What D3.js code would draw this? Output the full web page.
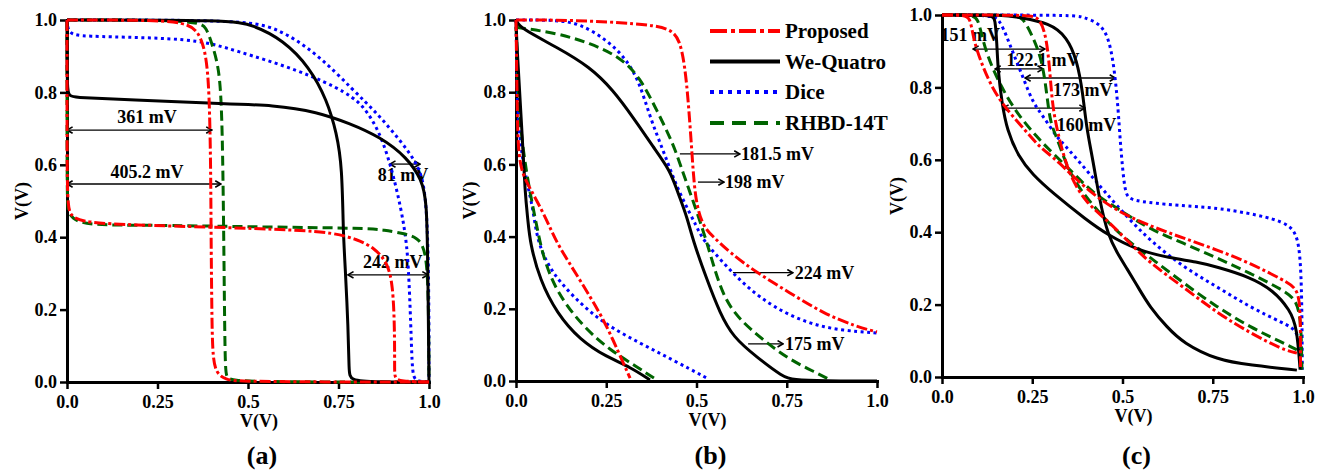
<!DOCTYPE html>
<html>
<head>
<meta charset="utf-8">
<script src="https://cdn.jsdelivr.net/npm/d3@7"></script>
<style>
body { margin: 0; background: #fff; }
text { font-family: "Liberation Serif", "Times New Roman", serif; font-weight: bold; fill: #000; }
</style>
</head>
<body>
<svg id="chart" width="1327" height="470"></svg>
<script>
// series
const seriesNames = ['Proposed', 'We-Quatro', 'Dice', 'RHBD-14T']
const seriesColors = ['#ff0000', '#000000', '#0000ff', '#006400']
const seriesDash = ['11,3,3,3', null, '3,3.5', '10,5']
const legendDash = ['17,4,4,4', null, '4,5', '14,8']

const xTicks = [0, 0.25, 0.5, 0.75, 1.0]
const xTickLabels = ['0.0', '0.25', '0.5', '0.75', '1.0']
const yTicks = [0, 0.2, 0.4, 0.6, 0.8, 1.0]
const yTickLabels = ['0.0', '0.2', '0.4', '0.6', '0.8', '1.0']

// panel (a): two branches per cell, [V1, V2]
const aProposed = [
  [[0,1],[0.2,1],[0.33,0.995],[0.367,0.964],[0.385,0.9],[0.393,0.8],[0.397,0.6],[0.398,0.4],[0.4,0.2],[0.402,0.08],[0.41,0.025],[0.44,0.006],[0.47,0.002],[0.7,0],[1,0]],
  [[0,1],[0,0.6],[0.002,0.48],[0.013,0.455],[0.055,0.44],[0.18,0.434],[0.395,0.428],[0.64,0.42],[0.735,0.412],[0.8,0.395],[0.85,0.37],[0.885,0.33],[0.9,0.27],[0.905,0.15],[0.905,0.04],[0.905,0.01],[0.92,0.002],[1,0]]
]
const aQuatro = [
  [[0,1],[0.45,1],[0.515,0.986],[0.597,0.945],[0.67,0.87],[0.718,0.779],[0.745,0.688],[0.76,0.594],[0.763,0.41],[0.768,0.33],[0.777,0.144],[0.779,0.03],[0.782,0.003],[0.85,0],[1,0]],
  [[0,1],[0,0.79],[0.008,0.787],[0.183,0.779],[0.395,0.77],[0.58,0.765],[0.69,0.746],[0.78,0.715],[0.865,0.677],[0.94,0.62],[0.98,0.558],[0.994,0.503],[0.997,0.3],[1,0]]
]
const aDice = [
  [[0,1],[0.48,1],[0.58,0.98],[0.69,0.908],[0.79,0.807],[0.856,0.743],[0.92,0.668],[0.975,0.594],[0.99,0.52],[0.997,0.4],[1,0.2],[1,0]],
  [[0,1],[0.003,0.96],[0.05,0.955],[0.2,0.952],[0.367,0.945],[0.46,0.917],[0.64,0.862],[0.78,0.798],[0.83,0.75],[0.874,0.668],[0.91,0.54],[0.934,0.42],[0.943,0.33],[0.95,0.15],[0.953,0.053],[0.957,0.01],[0.97,0.002],[1,0]]
]
const aRhbd = [
  [[0,1],[0.36,1],[0.385,0.98],[0.4,0.935],[0.42,0.87],[0.428,0.75],[0.432,0.5],[0.435,0.2],[0.437,0.05],[0.44,0.014],[0.45,0.003],[0.6,0],[1,0]],
  [[0,1],[0,0.5],[0.003,0.466],[0.027,0.44],[0.1,0.433],[0.276,0.433],[0.55,0.428],[0.83,0.425],[0.875,0.42],[0.93,0.41],[0.967,0.4],[0.994,0.365],[0.999,0.2],[1,0]]
]

// panel (b)
const bProposed = [
  [[0,1],[0.158,1],[0.343,0.99],[0.427,0.978],[0.454,0.945],[0.468,0.87],[0.477,0.778],[0.487,0.64],[0.496,0.5],[0.518,0.427],[0.546,0.4],[0.593,0.355],[0.667,0.3],[0.759,0.244],[0.85,0.188],[0.944,0.15],[1,0.136]],
  [[0,1],[0.003,0.778],[0.006,0.612],[0.025,0.557],[0.058,0.5],[0.094,0.427],[0.113,0.382],[0.177,0.28],[0.233,0.188],[0.269,0.114],[0.297,0.05],[0.316,0.008]]
]
const bQuatro = [
  [[0,1],[0.011,0.978],[0.113,0.925],[0.205,0.87],[0.269,0.806],[0.324,0.731],[0.38,0.648],[0.427,0.584],[0.449,0.52],[0.474,0.454],[0.49,0.39],[0.529,0.28],[0.565,0.188],[0.601,0.122],[0.667,0.066],[0.74,0.011],[0.767,0.003],[0.85,0],[1,0]],
  [[0,1],[0.003,0.917],[0.017,0.687],[0.025,0.52],[0.033,0.446],[0.039,0.382],[0.066,0.28],[0.113,0.188],[0.177,0.114],[0.252,0.066],[0.316,0.039],[0.371,0.003]]
]
const bDice = [
  [[0,1],[0.113,1],[0.177,0.99],[0.252,0.945],[0.307,0.89],[0.343,0.825],[0.371,0.731],[0.407,0.64],[0.435,0.565],[0.463,0.5],[0.501,0.427],[0.518,0.39],[0.584,0.316],[0.64,0.26],[0.712,0.205],[0.806,0.16],[0.898,0.14],[1,0.133]],
  [[0,1],[0.003,0.85],[0.006,0.687],[0.03,0.548],[0.047,0.48],[0.058,0.39],[0.094,0.307],[0.158,0.233],[0.241,0.16],[0.343,0.105],[0.435,0.058],[0.529,0.008]]
]
const bRhbd = [
  [[0,0.98],[0.113,0.964],[0.205,0.936],[0.288,0.898],[0.343,0.842],[0.39,0.75],[0.435,0.659],[0.463,0.576],[0.49,0.5],[0.518,0.418],[0.537,0.355],[0.573,0.233],[0.62,0.169],[0.684,0.114],[0.759,0.058],[0.834,0.022],[0.87,0.003]],
  [[0,0.98],[0.003,0.917],[0.006,0.778],[0.019,0.64],[0.039,0.52],[0.058,0.427],[0.075,0.343],[0.113,0.244],[0.186,0.15],[0.26,0.086],[0.335,0.039],[0.39,0.003]]
]

// panel (c)
const cProposed = [
  [[0,1],[0.24,1],[0.27,0.994],[0.29,0.939],[0.3,0.829],[0.307,0.738],[0.327,0.646],[0.355,0.552],[0.4,0.48],[0.457,0.434],[0.52,0.37],[0.576,0.315],[0.668,0.249],[0.762,0.177],[0.853,0.122],[0.945,0.075],[0.983,0.066]],
  [[0,1],[0.06,1],[0.078,0.994],[0.086,0.939],[0.105,0.876],[0.141,0.793],[0.18,0.738],[0.23,0.682],[0.27,0.635],[0.318,0.6],[0.4,0.517],[0.493,0.453],[0.585,0.414],[0.668,0.384],[0.762,0.351],[0.853,0.315],[0.945,0.268],[0.983,0.246],[0.992,0.2],[0.993,0.1],[0.993,0.02]]
]
const cQuatro = [
  [[0,1],[0.14,1],[0.147,0.99],[0.152,0.923],[0.155,0.848],[0.166,0.757],[0.18,0.682],[0.212,0.608],[0.25,0.56],[0.307,0.508],[0.4,0.434],[0.46,0.392],[0.54,0.351],[0.63,0.329],[0.706,0.318],[0.762,0.304],[0.853,0.276],[0.917,0.24],[0.964,0.185],[0.983,0.138],[0.992,0.02]],
  [[0,1],[0.18,1],[0.208,0.994],[0.3,0.978],[0.346,0.939],[0.374,0.876],[0.39,0.785],[0.4,0.69],[0.418,0.6],[0.438,0.48],[0.46,0.392],[0.485,0.343],[0.512,0.3],[0.545,0.245],[0.576,0.193],[0.623,0.138],[0.668,0.094],[0.762,0.047],[0.853,0.033],[0.983,0.019]]
]
const cDice = [
  [[0,1],[0.37,1],[0.39,0.994],[0.438,0.978],[0.465,0.931],[0.48,0.829],[0.488,0.738],[0.493,0.663],[0.498,0.6],[0.507,0.508],[0.52,0.489],[0.585,0.48],[0.706,0.47],[0.762,0.467],[0.881,0.447],[0.945,0.428],[0.978,0.406],[0.992,0.351],[0.997,0.213],[0.998,0.02]],
  [[0,1],[0.14,1],[0.16,0.985],[0.18,0.939],[0.197,0.895],[0.224,0.829],[0.252,0.757],[0.277,0.725],[0.318,0.663],[0.335,0.646],[0.4,0.572],[0.446,0.517],[0.52,0.434],[0.58,0.374],[0.668,0.304],[0.762,0.249],[0.853,0.193],[0.945,0.149],[0.983,0.13],[0.995,0.08]]
]
const cRhbd = [
  [[0,1],[0.2,1],[0.224,0.994],[0.252,0.939],[0.277,0.876],[0.29,0.785],[0.3,0.7],[0.318,0.663],[0.346,0.58],[0.382,0.517],[0.446,0.442],[0.5,0.387],[0.576,0.331],[0.668,0.26],[0.762,0.193],[0.853,0.138],[0.945,0.094],[0.983,0.075]],
  [[0,1],[0.08,1],[0.1,0.994],[0.114,0.923],[0.141,0.848],[0.18,0.773],[0.216,0.718],[0.263,0.663],[0.29,0.635],[0.363,0.564],[0.418,0.508],[0.493,0.461],[0.576,0.408],[0.668,0.37],[0.762,0.329],[0.853,0.287],[0.945,0.24],[0.983,0.213],[0.995,0.15],[0.997,0.02]]
]

// noise-margin annotations: arrow from..to at height "at", label at (tx, ty)
const notesA = [
  { label: '361 mV', from: 0, to: 0.40, at: 0.696, tx: 0.221, ty: 0.732, both: true },
  { label: '405.2 mV', from: 0, to: 0.425, at: 0.547, tx: 0.221, ty: 0.58, both: true },
  { label: '81 mV', from: 0.892, to: 0.975, at: 0.602, tx: 0.928, ty: 0.572, both: true },
  { label: '242 mV', from: 0.776, to: 0.997, at: 0.296, tx: 0.9, ty: 0.331, both: true }
]
const notesB = [
  { label: '181.5 mV', from: 0.454, to: 0.62, at: 0.629, tx: 0.623, ty: 0.629, both: false },
  { label: '198 mV', from: 0.504, to: 0.576, at: 0.551, tx: 0.579, ty: 0.551, both: false },
  { label: '224 mV', from: 0.601, to: 0.767, at: 0.3, tx: 0.772, ty: 0.3, both: false },
  { label: '175 mV', from: 0.643, to: 0.74, at: 0.103, tx: 0.745, ty: 0.103, both: false }
]
const notesC = [
  { label: '151 mV', from: 0.086, to: 0.285, at: 0.906, tx: 0.078, ty: 0.945, both: true },
  { label: '122.1 mV', from: 0.147, to: 0.28, at: 0.851, tx: 0.28, ty: 0.876, both: true },
  { label: '173 mV', from: 0.23, to: 0.48, at: 0.826, tx: 0.39, ty: 0.793, both: true },
  { label: '160 mV', from: 0.169, to: 0.396, at: 0.743, tx: 0.4, ty: 0.696, both: true }
]

const panels = [
  { label: '(a)', left: 67, right: 429, top: 20, bottom: 382, curves: [aProposed, aQuatro, aDice, aRhbd], notes: notesA, anchor: 'middle', yTitleX: 22 },
  { label: '(b)', left: 516, right: 877, top: 20, bottom: 381, curves: [bProposed, bQuatro, bDice, bRhbd], notes: notesB, anchor: 'start', yTitleX: 470 },
  { label: '(c)', left: 942, right: 1303, top: 15, bottom: 377, curves: [cProposed, cQuatro, cDice, cRhbd], notes: notesC, anchor: 'middle', yTitleX: 897 }
]

const svg = d3.select('#chart')

const defs = svg.append('defs')
defs.append('marker')
  .attr('id', 'head')
  .attr('viewBox', '0 0 10 10')
  .attr('refX', 9).attr('refY', 5)
  .attr('markerWidth', 8).attr('markerHeight', 8)
  .attr('markerUnits', 'userSpaceOnUse')
  .attr('orient', 'auto-start-reverse')
  .append('path')
  .attr('d', 'M2,1 L9,5 L2,9')
  .attr('fill', 'none')
  .attr('stroke', '#000')
  .attr('stroke-width', 2)

const drawOrder = [2, 3, 1, 0]

panels.forEach(p => {
  const x = d3.scaleLinear().domain([0, 1]).range([p.left, p.right])
  const y = d3.scaleLinear().domain([0, 1]).range([p.bottom, p.top])
  const g = svg.append('g')

  const xAxis = d3.axisBottom(x).tickValues(xTicks)
    .tickFormat((d, i) => xTickLabels[i])
    .tickSize(7).tickSizeOuter(0).tickPadding(6)
  const yAxis = d3.axisLeft(y).tickValues(yTicks)
    .tickFormat((d, i) => yTickLabels[i])
    .tickSize(7).tickSizeOuter(0).tickPadding(3)

  const gx = g.append('g').attr('transform', `translate(0,${p.bottom})`).call(xAxis)
  const gy = g.append('g').attr('transform', `translate(${p.left},0)`).call(yAxis)
  ;[gx, gy].forEach(a => {
    a.attr('font-size', 18)
    a.select('.domain').attr('stroke-width', 3).attr('stroke-linecap', 'square')
    a.selectAll('.tick line').attr('stroke-width', 2.5)
  })

  // axis titles and panel label
  g.append('text')
    .attr('x', (p.left + p.right) / 2 + 11).attr('y', p.bottom + 39)
    .attr('dy', '0.35em').attr('text-anchor', 'middle')
    .attr('font-size', 18).text('V(V)')
  g.append('text')
    .attr('transform', `translate(${p.yTitleX},${(p.top + p.bottom) / 2}) rotate(-90)`)
    .attr('dy', '0.35em').attr('text-anchor', 'middle')
    .attr('font-size', 18).text('V(V)')
  g.append('text')
    .attr('x', (p.left + p.right) / 2 + 14).attr('y', 455)
    .attr('dy', '0.35em').attr('text-anchor', 'middle')
    .attr('font-size', 26).text(p.label)

  // annotations
  p.notes.forEach(n => {
    g.append('line')
      .attr('x1', x(n.from)).attr('x2', x(n.to))
      .attr('y1', y(n.at)).attr('y2', y(n.at))
      .attr('stroke', '#000').attr('stroke-width', 1.3)
      .attr('marker-end', 'url(#head)')
      .attr('marker-start', n.both ? 'url(#head)' : null)
    g.append('text')
      .attr('x', x(n.tx)).attr('y', y(n.ty))
      .attr('dy', '0.35em').attr('text-anchor', p.anchor)
      .attr('font-size', 18).text(n.label)
  })

  // butterfly curves
  const line = d3.line()
    .x(d => x(d[0])).y(d => y(d[1]))
    .curve(d3.curveBasis)
  drawOrder.forEach(si => {
    p.curves[si].forEach(branch => {
      g.append('path')
        .attr('d', line(branch))
        .attr('fill', 'none')
        .attr('stroke', seriesColors[si])
        .attr('stroke-width', 3)
        .attr('stroke-dasharray', seriesDash[si])
    })
  })
})

// legend (inside panel b)
const legendY = [31, 61.5, 92, 123]
const lg = svg.append('g')
seriesNames.forEach((name, i) => {
  lg.append('line')
    .attr('x1', 710).attr('x2', 780)
    .attr('y1', legendY[i]).attr('y2', legendY[i])
    .attr('stroke', seriesColors[i]).attr('stroke-width', 4)
    .attr('stroke-dasharray', legendDash[i])
  lg.append('text')
    .attr('x', 785).attr('y', legendY[i])
    .attr('dy', '0.35em').attr('font-size', 21)
    .text(name)
})
</script>
</body>
</html>
